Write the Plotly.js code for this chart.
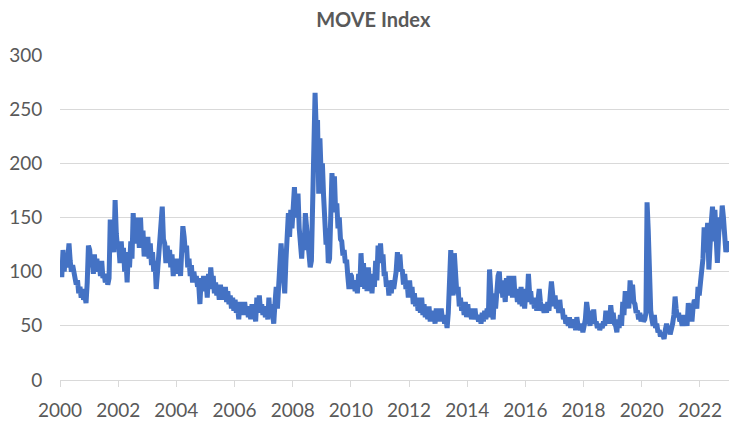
<!DOCTYPE html>
<html>
<head>
<meta charset="utf-8">
<script src="https://cdn.plot.ly/plotly-3.0.1.min.js"></script>
<style>
  html, body { margin: 0; padding: 0; background: #ffffff; }
  #chart { width: 729px; height: 421px; }
</style>
</head>
<body>
<div id="chart"></div>
<script>
// MOVE Index, two readings per month
const years = [2000, 2001, 2002, 2003, 2004, 2005, 2006, 2007, 2008, 2009, 2010, 2011,
               2012, 2013, 2014, 2015, 2016, 2017, 2018, 2019, 2020, 2021, 2022];
const v2000 = [108, 95, 120, 100, 116, 104, 112, 126, 110, 100, 106, 98, 96, 88, 92, 80, 86, 76, 84, 74, 78, 71, 90, 124];
const v2001 = [120, 104, 114, 98, 116, 100, 112, 100, 108, 96, 110, 94, 98, 90, 95, 88, 94, 148, 124, 130, 118, 166, 135, 122];
const v2002 = [124, 108, 128, 110, 122, 100, 112, 90, 118, 104, 128, 112, 154, 130, 150, 126, 140, 122, 150, 124, 138, 114, 130, 118];
const v2003 = [132, 112, 126, 106, 118, 100, 110, 84, 98, 112, 128, 140, 160, 130, 126, 108, 124, 112, 120, 104, 116, 96, 110, 98];
const v2004 = [112, 100, 108, 96, 126, 142, 132, 118, 124, 104, 112, 96, 106, 90, 100, 92, 96, 86, 88, 70, 94, 82, 96, 86];
const v2005 = [92, 76, 98, 84, 104, 90, 96, 80, 90, 78, 86, 74, 88, 76, 84, 74, 86, 72, 82, 70, 78, 66, 76, 64];
const v2006 = [74, 62, 68, 56, 72, 62, 70, 60, 72, 62, 68, 58, 66, 56, 70, 58, 64, 54, 76, 62, 78, 64, 70, 60];
const v2007 = [68, 58, 64, 56, 76, 58, 70, 54, 52, 70, 86, 66, 86, 120, 126, 110, 96, 80, 110, 142, 154, 132, 157, 140];
const v2008 = [160, 178, 150, 172, 172, 140, 126, 112, 132, 120, 154, 140, 123, 112, 104, 110, 166, 200, 265, 230, 240, 172, 223, 190];
const v2009 = [200, 170, 150, 125, 140, 108, 112, 150, 191, 172, 188, 155, 163, 140, 150, 130, 128, 115, 120, 108, 111, 96, 84, 98];
const v2010 = [96, 84, 92, 82, 90, 80, 98, 86, 117, 96, 108, 84, 96, 82, 104, 88, 94, 80, 98, 86, 110, 92, 124, 112];
const v2011 = [126, 108, 116, 96, 100, 86, 92, 78, 88, 80, 92, 84, 90, 100, 118, 104, 116, 100, 102, 88, 98, 84, 90, 76];
const v2012 = [92, 78, 86, 70, 80, 68, 76, 64, 72, 62, 76, 60, 70, 58, 66, 56, 68, 54, 64, 56, 62, 52, 66, 54];
const v2013 = [64, 54, 66, 56, 60, 52, 56, 48, 62, 86, 120, 96, 78, 117, 92, 80, 86, 68, 76, 64, 70, 60, 72, 58];
const v2014 = [70, 58, 66, 56, 64, 58, 66, 56, 60, 54, 58, 52, 62, 54, 64, 56, 66, 58, 102, 68, 62, 56, 80, 66];
const v2015 = [88, 96, 100, 80, 92, 76, 86, 72, 94, 78, 96, 80, 92, 76, 96, 78, 84, 72, 82, 70, 86, 68, 80, 66];
const v2016 = [84, 72, 98, 80, 82, 70, 76, 66, 72, 64, 78, 84, 72, 64, 68, 62, 70, 62, 72, 64, 78, 91, 80, 68];
const v2017 = [78, 66, 70, 62, 74, 62, 66, 56, 60, 52, 56, 50, 58, 48, 56, 48, 54, 46, 58, 50, 50, 46, 52, 44];
const v2018 = [50, 56, 72, 58, 56, 50, 64, 54, 65, 52, 54, 48, 52, 46, 50, 48, 54, 50, 64, 54, 60, 52, 69, 58];
const v2019 = [62, 52, 50, 44, 56, 48, 60, 50, 72, 60, 82, 70, 76, 66, 92, 78, 88, 72, 70, 62, 64, 56, 62, 54];
const v2020 = [60, 54, 56, 62, 164, 138, 77, 64, 56, 50, 60, 48, 52, 44, 46, 40, 44, 40, 38, 46, 52, 44, 50, 42];
const v2021 = [46, 52, 60, 77, 66, 58, 62, 54, 56, 50, 60, 52, 58, 50, 71, 58, 62, 54, 68, 74, 72, 66, 86, 78];
const v2022 = [90, 100, 112, 141, 118, 130, 145, 102, 132, 145, 160, 128, 157, 125, 108, 132, 150, 140, 161, 150, 138, 118, 128, 118];
const yearValues = [v2000, v2001, v2002, v2003, v2004, v2005, v2006, v2007, v2008, v2009, v2010, v2011,
                    v2012, v2013, v2014, v2015, v2016, v2017, v2018, v2019, v2020, v2021, v2022];
const halfMonthDays = ['08', '23'];
const yTicks = [0, 50, 100, 150, 200, 250, 300];
const chartTitle = 'MOVE Index';

const xs = [], ys = [];
years.forEach((yr, k) => {
  yearValues[k].forEach((v, i) => {
    const m = String(Math.floor(i / 2) + 1).padStart(2, '0');
    xs.push(`${yr}-${m}-${halfMonthDays[i % 2]}`);
    ys.push(v);
  });
});

const fontFam = 'Lato, "Open Sans", sans-serif';
const grey = '#595959';

Plotly.newPlot('chart', [{
  x: xs, y: ys, type: 'scatter', mode: 'lines',
  line: { color: '#4472C4', width: 5, shape: 'linear' },
  hoverinfo: 'skip'
}], {
  width: 729, height: 421,
  margin: { l: 60, r: 0, t: 55, b: 41, pad: 0 },
  paper_bgcolor: '#ffffff', plot_bgcolor: '#ffffff',
  showlegend: false,
  title: { text: chartTitle, x: 0.512, xref: 'container', xanchor: 'center',
           y: 0.952, yref: 'container', yanchor: 'middle',
           font: { family: fontFam, size: 20, color: grey, weight: 'bold' } },
  xaxis: {
    type: 'date', range: ['2000-01-01', '2023-01-01'],
    tick0: '2000-01-01', dtick: 'M24', tickformat: '%Y',
    showgrid: false, zeroline: false,
    showline: true, linecolor: '#d9d9d9', linewidth: 1,
    ticks: 'outside', ticklen: 6, tickcolor: '#d9d9d9', tickwidth: 1,
    ticklabelstandoff: 7,
    tickfont: { family: fontFam, size: 19, color: grey }
  },
  yaxis: {
    range: [0, 300], tickvals: yTicks, ticktext: yTicks.map(String),
    showgrid: true, gridcolor: '#d9d9d9', gridwidth: 1,
    zeroline: false, showline: false,
    ticks: 'outside', ticklen: 13, tickcolor: 'rgba(0,0,0,0)',
    tickfont: { family: fontFam, size: 19, color: grey }
  }
}, { displayModeBar: false, staticPlot: true });
</script>
</body>
</html>
